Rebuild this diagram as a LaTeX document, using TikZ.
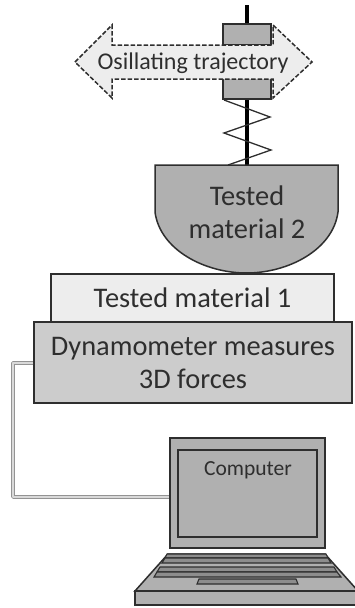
\documentclass[tikz,border=0pt]{standalone}
\usepackage{fontspec}
\setmainfont{Carlito}
\definecolor{dynfill}{gray}{0.80}
\definecolor{matfill}{gray}{0.93}
\definecolor{lapfill}{gray}{0.69}
\definecolor{ink}{gray}{0.18}
\tikzset{
  solidbox/.style={draw=ink,line width=1.5pt},
  label/.style={text=ink,align=center,font=\fontsize{28.4}{33}\selectfont,inner sep=0pt},
  keybar/.style={draw=ink,line width=1.1pt,fill=lapfill!80!black},
}
\begin{document}
\begin{tikzpicture}[x=1pt,y=-1pt]
\useasboundingbox (0,0) rectangle (355,608);
\clip (0,0) rectangle (355,608);
% rod and spring
\coordinate (rodtop) at (247,5);
\coordinate (rodbot) at (247,165);
\draw[black,line width=4.5pt] (rodtop) -- (rodbot);
\node[solidbox,fill=lapfill,minimum width=48pt,minimum height=21pt,inner sep=0pt] (topblock) at (247,34.5) {};
\node[solidbox,fill=lapfill,minimum width=48pt,minimum height=21pt,inner sep=0pt] (botblock) at (247,88.5) {};
\draw[ink,line width=1.3pt] (224,100) -- (270,117) -- (224,133) -- (271,150) -- (228,165);
% arrow
\draw[draw=ink,dash pattern=on 4.5pt off 2pt,line width=1.5pt,fill=matfill]
  (75,62) -- (112,25) -- (112,45) -- (273,45) -- (273,25) -- (312,62) -- (273,98) -- (273,79) -- (112,79) -- (112,98) -- cycle;
\node[label,font=\fontsize{24}{28}\selectfont] (traj) at (193,63) {Osillating trajectory};
% cup
\draw[solidbox,fill=lapfill] (155,165) -- (155,212) .. controls (160,250) and (205,273) .. (246.5,273) .. controls (288,273) and (333,250) .. (338,212) -- (338,165) -- cycle;
\node[label] (mat2) at (247,212) {Tested\\material 2};
% plates
\node[solidbox,fill=matfill,minimum width=283pt,minimum height=48pt,inner sep=0pt,label] (mat1) at (192.5,298) {Tested material 1};
\node[solidbox,fill=dynfill,minimum width=318pt,minimum height=81pt,inner sep=0pt,label] (dyn) at (193,362.5) {Dynamometer measures\\3D forces};
% laptop
\node[solidbox,fill=lapfill,minimum width=155pt,minimum height=110pt,inner sep=0pt] (lid) at (247.5,493) {};
\node[solidbox,line width=2pt,fill=lapfill,minimum width=139pt,minimum height=87pt,inner sep=0pt] (screen) at (247.5,493.5) {};
\node[label,font=\fontsize{21.5}{25}\selectfont] (comp) at (248,470) {Computer};
% wire
\draw[draw=gray!85,double=gray!30,double distance=1.4pt,line width=1.2pt,line join=round] (dyn.west |- 0,363) -- (13,363) -- (13,497) -- (lid.west |- 0,497);
% keyboard base
\draw[solidbox,fill=lapfill] (135,591) -- (168,554) -- (325,554) -- (358,591) -- cycle;
\draw[keybar] (167,554) -- (326,554) -- (328,558) -- (165,558) -- cycle;
\draw[keybar] (165,558) -- (328,558) -- (331,563) -- (162,563) -- cycle;
\draw[keybar] (160,567) -- (334,567) -- (337,572) -- (157,572) -- cycle;
\draw[keybar] (157,572) -- (337,572) -- (341,577) -- (154,577) -- cycle;
\draw[keybar] (199,579) -- (296,579) -- (298,584) -- (197,584) -- cycle;
\draw[solidbox,fill=lapfill] (135,591) rectangle (358,605);
\end{tikzpicture}
\end{document}
